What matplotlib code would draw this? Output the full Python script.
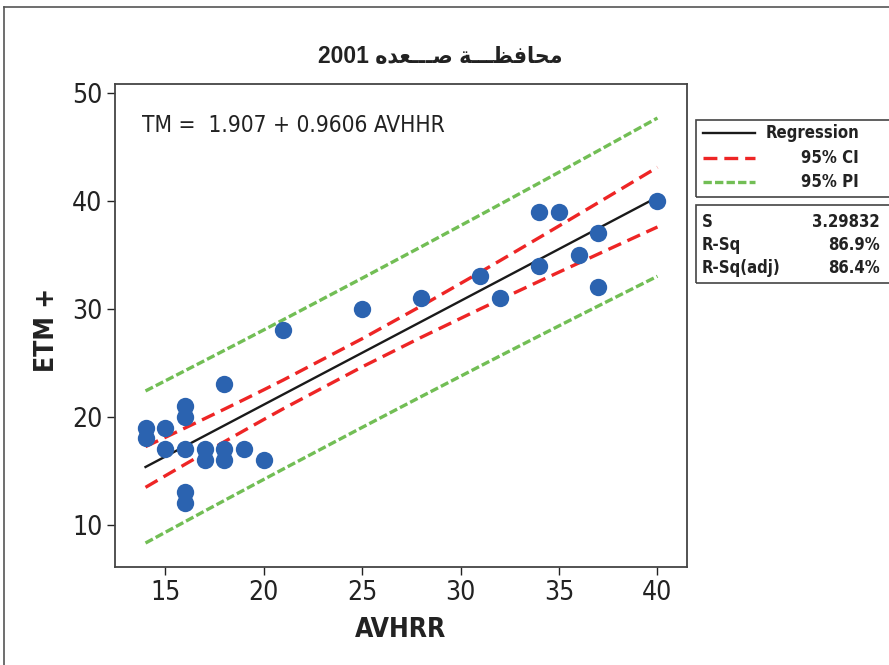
import numpy as np
import matplotlib
matplotlib.use('Agg')
import matplotlib.pyplot as plt
from matplotlib.lines import Line2D
from matplotlib.patches import Rectangle

# AVHRR vs ETM+ values, Sa'da 2001
avhrr = [14, 14, 15, 15, 16, 16, 16, 16, 16, 17, 17, 18, 18, 18, 19, 20, 21,
         25, 28, 31, 32, 34, 34, 35, 36, 37, 37, 40]
etm = [19, 18, 19, 17, 21, 20, 17, 13, 12, 17, 16, 23, 17, 16, 17, 16, 28,
       30, 31, 33, 31, 39, 34, 39, 35, 37, 32, 40]

# fitted model summary
b0 = 1.907
b1 = 0.9606
s_val = 3.29832
rsq = 86.9
rsq_adj = 86.4
t_crit = 2.0555   # t(0.975, df=26)

plt.rcParams['lines.scale_dashes'] = False
plt.rcParams['font.family'] = ['DejaVu Sans']
plt.rcParams['font.stretch'] = 'condensed'

x = np.array(avhrr, dtype=float)
y = np.array(etm, dtype=float)
n = len(x)
xbar = x.mean()
sxx = ((x - xbar) ** 2).sum()

xs = np.unique(x)
yhat = b0 + b1 * xs
se_fit = s_val * np.sqrt(1.0 / n + (xs - xbar) ** 2 / sxx)
ci = t_crit * se_fit
pi = t_crit * np.sqrt(s_val ** 2 + se_fit ** 2)

fig = plt.figure(figsize=(8.89, 6.65), dpi=100)
W, H = 889, 665
ax = fig.add_axes([115 / W, 1 - 567 / H, (687 - 115) / W, (567 - 84) / H])

green = '#72be55'
red = '#ee2525'
ax.plot(xs, yhat + pi, color=green, lw=2.4, dashes=(6, 2.3))
ax.plot(xs, yhat - pi, color=green, lw=2.4, dashes=(6, 2.3))
ax.plot(xs, yhat + ci, color=red, lw=2.4, dashes=(10, 5))
ax.plot(xs, yhat - ci, color=red, lw=2.4, dashes=(10, 5))
ax.plot(xs, yhat, color='#1a1a1a', lw=1.7)
ax.plot(x, y, 'o', color='#2b63b0', ms=12.5, mec='none')

ax.set_xlim(12.45, 41.5)
ax.set_ylim(6.1, 50.8)
ax.set_xticks([15, 20, 25, 30, 35, 40])
ax.set_yticks([10, 20, 30, 40, 50])
ax.tick_params(direction='out', length=6, width=1, colors='#222222',
               labelsize=19, pad=3)
for sp in ax.spines.values():
    sp.set_color('#444444')
    sp.set_linewidth(1.3)

ax.text(0.047, 0.915, 'TM =  1.907 + 0.9606 AVHHR',
        transform=ax.transAxes, fontsize=16.3, color='#222222', va='center')

ax.set_xlabel('AVHRR', fontsize=19, fontweight='bold', color='#222222', labelpad=8)
fig.text(47 / W, 1 - 330 / H, 'ETM +', rotation=90, ha='center', va='center',
         fontsize=19, fontweight='bold', color='#222222')

# title: Arabic written with presentation forms in visual order
word2 = '\uFEE9\uFEAA\uFECC\u0640\u0640\u0640\uFEBB'
word1 = '\uFE94\u0640\u0640\u0640\uFEC8\uFED3\uFE8E\uFEA4\uFEE3'
fig.text(440 / W, 1 - 57 / H, '2001 ' + word2 + ' ' + word1,
         family=['Liberation Sans', 'DejaVu Sans'], fontweight='bold',
         fontsize=16.5, ha='center', va='center', color='#222222')

# outer frame
fig.add_artist(Line2D([4 / W, 1.0], [1 - 7 / H, 1 - 7 / H], color='#555555', lw=1.2))
fig.add_artist(Line2D([4 / W, 4 / W], [0, 1 - 7 / H], color='#555555', lw=1.2))

# legend box
fig.add_artist(Rectangle((696 / W, 1 - 197 / H), 200 / W, 77 / H,
                         fill=False, ec='#444444', lw=1.2))
rows = [(133, dict(color='#1a1a1a', lw=1.7), 'Regression'),
        (158, dict(color=red, lw=2.4, dashes=(10, 5)), '95% CI'),
        (182, dict(color=green, lw=2.4, dashes=(6, 2.3)), '95% PI')]
for yy, style, lab in rows:
    fig.add_artist(Line2D([703 / W, 755 / W], [1 - yy / H, 1 - yy / H], **style))
    fig.text(859 / W, 1 - yy / H, lab, ha='right', va='center',
             fontsize=12, fontweight='bold', color='#222222')

# fit statistics box
fig.add_artist(Rectangle((696 / W, 1 - 283 / H), 200 / W, 78 / H,
                         fill=False, ec='#444444', lw=1.2))
stats = [(222, 'S', '%.5f' % s_val),
         (245, 'R-Sq', '%.1f%%' % rsq),
         (268, 'R-Sq(adj)', '%.1f%%' % rsq_adj)]
for yy, lab, val in stats:
    fig.text(702 / W, 1 - yy / H, lab, ha='left', va='center',
             fontsize=12, fontweight='bold', color='#222222')
    fig.text(880 / W, 1 - yy / H, val, ha='right', va='center',
             fontsize=12, fontweight='bold', color='#222222')

fig.savefig('out.png', dpi=100)
